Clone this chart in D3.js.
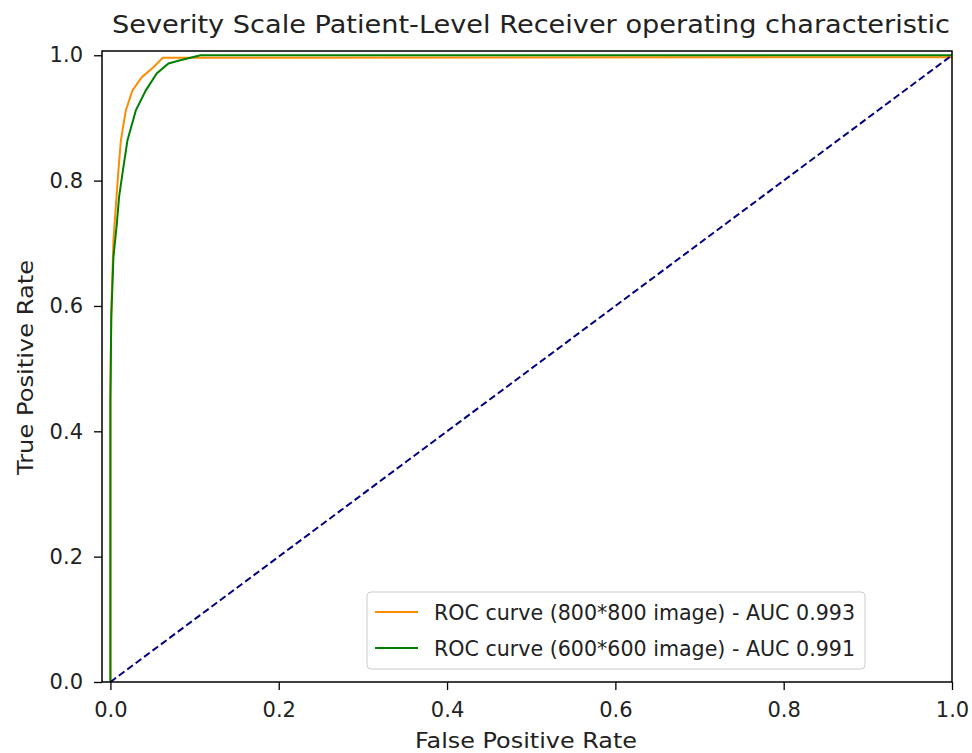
<!DOCTYPE html>
<html>
<head>
<meta charset="utf-8">
<script src="https://cdn.jsdelivr.net/npm/d3@7"></script>
<style>
  body { margin: 0; background: #fff; }
  svg { font-family: "DejaVu Sans", sans-serif; }
</style>
</head>
<body>
<div id="chart"></div>
<script>
// ROC points (false positive rate, true positive rate)
const fpr800 = [0, 0, 0.001, 0.0036, 0.0064, 0.0092, 0.0124, 0.0183, 0.0262, 0.0373, 0.0511, 0.0622, 1.0, 1.0];
const tpr800 = [0, 0.45, 0.59, 0.705, 0.758, 0.811, 0.864, 0.912, 0.944, 0.965, 0.981, 0.996, 0.997, 1.0];
const fpr600 = [0, 0, 0.001, 0.0036, 0.0076, 0.0103, 0.0143, 0.0202, 0.0302, 0.0421, 0.055, 0.069, 0.083, 0.095, 0.107, 1.0];
const tpr600 = [0, 0.45, 0.58, 0.678, 0.731, 0.774, 0.811, 0.864, 0.912, 0.944, 0.971, 0.987, 0.992, 0.996, 1.0, 1.0];
const diagX = [0, 1];
const diagY = [0, 1];
const xTicks = [0.0, 0.2, 0.4, 0.6, 0.8, 1.0];
const yTicks = [0.0, 0.2, 0.4, 0.6, 0.8, 1.0];
const seriesNames = ["ROC curve (800*800 image) - AUC 0.993", "ROC curve (600*600 image) - AUC 0.991"];

const width = 972, height = 753;
const margin = {top: 51, right: 20, bottom: 71, left: 102};

const svg = d3.select("#chart")
  .append("svg")
  .attr("width", width)
  .attr("height", height);

const xScale = d3.scaleLinear()
  .domain([-0.01, 1.0])
  .range([margin.left, width - margin.right]);

const yScale = d3.scaleLinear()
  .domain([0, 1.0068])
  .range([height - margin.bottom, margin.top]);

// axes
const xAxis = svg.append("g")
  .attr("transform", `translate(0,${height - margin.bottom})`)
  .call(d3.axisBottom(xScale).tickValues(xTicks).tickFormat(d3.format(".1f")).tickSizeOuter(0).tickSize(8).tickPadding(12));
const yAxis = svg.append("g")
  .attr("transform", `translate(${margin.left},0)`)
  .call(d3.axisLeft(yScale).tickValues(yTicks).tickFormat(d3.format(".1f")).tickSizeOuter(0).tickSize(8).tickPadding(11));

[xAxis, yAxis].forEach(a => {
  a.select(".domain").remove();
  a.selectAll("line").attr("stroke", "#000").attr("stroke-width", 1.3);
  a.selectAll("text").attr("font-size", "21px").attr("fill", "#222")
    .attr("font-family", "DejaVu Sans, sans-serif");
});

const line = d3.line()
  .x(d => xScale(d[0]))
  .y(d => yScale(d[1]));

svg.append("clipPath").attr("id", "clip")
  .append("rect")
  .attr("x", margin.left).attr("y", margin.top)
  .attr("width", width - margin.left - margin.right)
  .attr("height", height - margin.top - margin.bottom);

const plot = svg.append("g").attr("clip-path", "url(#clip)");

plot.append("path")
  .datum(fpr800.map((x, i) => [x, tpr800[i]]))
  .attr("fill", "none")
  .attr("stroke", "darkorange")
  .attr("stroke-width", 2)
  .attr("d", line);

plot.append("path")
  .datum(fpr600.map((x, i) => [x, tpr600[i]]))
  .attr("fill", "none")
  .attr("stroke", "green")
  .attr("stroke-width", 2)
  .attr("d", line);

plot.append("path")
  .datum(diagX.map((x, i) => [x, diagY[i]]))
  .attr("fill", "none")
  .attr("stroke", "navy")
  .attr("stroke-width", 2)
  .attr("stroke-dasharray", "7,3.5")
  .attr("d", line);

// frame
svg.append("rect")
  .attr("x", margin.left).attr("y", margin.top)
  .attr("width", width - margin.left - margin.right)
  .attr("height", height - margin.top - margin.bottom)
  .attr("fill", "none")
  .attr("stroke", "#000")
  .attr("stroke-width", 1.5);

// title and labels
svg.append("text")
  .attr("x", 112)
  .attr("y", 33)
  .attr("font-size", "24px")
  .attr("textLength", 838)
  .attr("lengthAdjust", "spacingAndGlyphs")
  .attr("fill", "#222")
  .text("Severity Scale Patient-Level Receiver operating characteristic");

svg.append("text")
  .attr("x", 415)
  .attr("y", 748)
  .attr("font-size", "21px")
  .attr("textLength", 222)
  .attr("lengthAdjust", "spacingAndGlyphs")
  .attr("fill", "#222")
  .text("False Positive Rate");

svg.append("text")
  .attr("transform", `translate(33,475) rotate(-90)`)
  .attr("font-size", "21px")
  .attr("textLength", 215)
  .attr("lengthAdjust", "spacingAndGlyphs")
  .attr("fill", "#222")
  .text("True Positive Rate");

// legend
const legend = svg.append("g");
legend.append("rect")
  .attr("x", 367).attr("y", 592)
  .attr("width", 498).attr("height", 77)
  .attr("rx", 4)
  .attr("fill", "#fff")
  .attr("fill-opacity", 0.8)
  .attr("stroke", "#ccc");

const colors = ["darkorange", "green"];
seriesNames.forEach((name, i) => {
  const y = 612 + i * 36;
  legend.append("line")
    .attr("x1", 375).attr("x2", 418)
    .attr("y1", y).attr("y2", y)
    .attr("stroke", colors[i])
    .attr("stroke-width", 2);
  legend.append("text")
    .attr("x", 434).attr("y", y + 7.5)
    .attr("font-size", "20.5px")
    .attr("textLength", 421)
    .attr("lengthAdjust", "spacingAndGlyphs")
    .attr("fill", "#222")
    .text(name);
});
</script>
</body>
</html>
